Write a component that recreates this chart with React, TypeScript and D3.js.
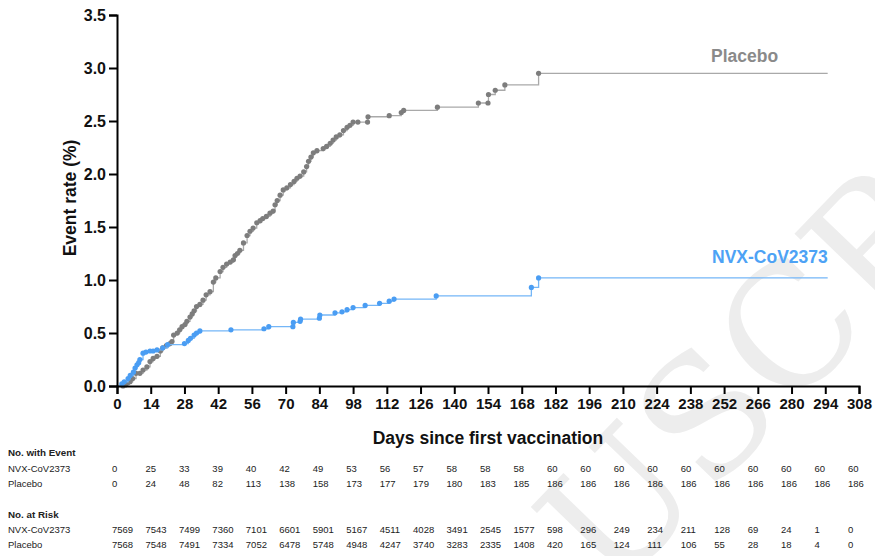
import React, { useEffect, useRef } from 'react';
import * as d3 from 'd3';

// axis ticks
const xTicks = [0, 14, 28, 42, 56, 70, 84, 98, 112, 126, 140, 154, 168, 182, 196, 210, 224, 238, 252, 266, 280, 294, 308];
const yTicks = [0, 0.5, 1.0, 1.5, 2.0, 2.5, 3.0, 3.5];

// [day, event rate %]
const placeboEvents: [number, number][] = [
  [2.5, 0.0], [3.5, 0.01], [4.5, 0.03], [5.4, 0.04], [6.5, 0.07], [7.9, 0.12], [9.5, 0.12], [10.8, 0.15],
  [12.4, 0.18], [13.7, 0.23], [15, 0.26], [16.6, 0.28], [18, 0.33], [19, 0.36], [20.5, 0.38], [22, 0.4],
  [22.8, 0.42], [23.5, 0.48], [25, 0.5], [26, 0.53], [27, 0.56], [28.2, 0.58], [29, 0.61], [30.3, 0.65],
  [31.2, 0.68], [32, 0.71], [33, 0.75], [34.4, 0.77], [35.7, 0.81], [37, 0.86], [38.6, 0.89], [40, 0.98],
  [41, 1.02], [42.8, 1.08], [44, 1.12], [45.5, 1.15], [47, 1.17], [48.3, 1.19], [49, 1.23], [50, 1.25],
  [51, 1.28], [52.5, 1.35], [54, 1.42], [55.2, 1.46], [56.5, 1.49], [58, 1.54], [59.4, 1.56], [60.5, 1.58],
  [62, 1.6], [63.5, 1.63], [64.8, 1.65], [65.6, 1.71], [66.5, 1.75], [67.7, 1.8], [69, 1.85], [70.5, 1.87],
  [72, 1.9], [73.5, 1.93], [74.7, 1.96], [76, 1.98], [77.5, 2.02], [78.7, 2.07], [79.5, 2.12], [80.5, 2.16],
  [81.5, 2.2], [83, 2.22], [85.6, 2.24], [87, 2.26], [88.5, 2.29], [89.7, 2.32], [91, 2.35], [92.5, 2.37],
  [94, 2.41], [95.5, 2.44], [96.7, 2.46], [98, 2.49], [100, 2.49], [104, 2.49], [104.2, 2.54], [113, 2.55],
  [118, 2.58], [119, 2.6], [133, 2.63], [150, 2.67], [154, 2.67], [154.2, 2.75], [157, 2.79], [161, 2.84],
  [175, 2.95],
];

const nvxEvents: [number, number][] = [
  [2, 0.02], [3, 0.04], [4.6, 0.07], [5.5, 0.1], [6.8, 0.13], [7.5, 0.17], [8.3, 0.2], [9, 0.22],
  [9.5, 0.25], [10.8, 0.31], [12, 0.32], [13.7, 0.33], [15, 0.33], [16.6, 0.34], [19, 0.36], [21, 0.39],
  [28, 0.4], [29.6, 0.43], [30.5, 0.45], [32, 0.48], [33, 0.5], [34.4, 0.52], [47.3, 0.53], [61, 0.54],
  [63, 0.56], [73, 0.56], [73.2, 0.6], [76, 0.61], [76.2, 0.63], [84, 0.64], [84.2, 0.67], [90.5, 0.69],
  [93.4, 0.7], [95.5, 0.72], [98, 0.74], [103, 0.76], [109, 0.78], [113, 0.8], [115, 0.82], [132.5, 0.85],
  [172, 0.93], [175, 1.02],
];

const followUpEnd = 295;

// tables under the plot
const nvxWithEvent = [0, 25, 33, 39, 40, 42, 49, 53, 56, 57, 58, 58, 58, 60, 60, 60, 60, 60, 60, 60, 60, 60, 60];
const placeboWithEvent = [0, 24, 48, 82, 113, 138, 158, 173, 177, 179, 180, 183, 185, 186, 186, 186, 186, 186, 186, 186, 186, 186, 186];
const nvxAtRisk = [7569, 7543, 7499, 7360, 7101, 6601, 5901, 5167, 4511, 4028, 3491, 2545, 1577, 598, 296, 249, 234, 211, 128, 69, 24, 1, 0];
const placeboAtRisk = [7568, 7548, 7491, 7334, 7052, 6478, 5748, 4948, 4247, 3740, 3283, 2335, 1408, 420, 165, 124, 111, 106, 55, 28, 18, 4, 0];

const width = 875;
const height = 556;
const arial = '"Liberation Sans", Arial, sans-serif';

const KMChart = () => {
  const svgRef = useRef<SVGSVGElement>(null);

  useEffect(() => {
    const svg = d3.select(svgRef.current);
    svg.selectAll('*').remove();

    const x = d3.scaleLinear().domain([0, 308]).range([117, 859]);
    const y = d3.scaleLinear().domain([0, 3.5]).range([386, 15]);

    // faint watermark, lower right (clipped by the frame like the original)
    svg.append('text')
      .attr('transform', 'translate(612,596) rotate(-46)')
      .attr('font-family', '"DejaVu Serif", "Liberation Serif", serif')
      .attr('font-size', 165)
      .attr('fill', '#ededed')
      .text('USCR');

    // curves
    const series = [
      { name: 'Placebo', events: placeboEvents, dot: '#7d7d7d', line: '#a9a9a9' },
      { name: 'NVX-CoV2373', events: nvxEvents, dot: '#4a9df3', line: '#74b6f7' },
    ];

    const line = d3.line<[number, number]>()
      .x(d => x(d[0]))
      .y(d => y(d[1]))
      .curve(d3.curveStepAfter);

    series.forEach(s => {
      const last = s.events[s.events.length - 1];
      const pts: [number, number][] = [[0, 0], ...s.events, [followUpEnd, last[1]]];
      svg.append('path')
        .datum(pts)
        .attr('fill', 'none')
        .attr('stroke', s.line)
        .attr('stroke-width', 1.3)
        .attr('d', line);

      svg.append('g')
        .selectAll('circle')
        .data(s.events)
        .enter()
        .append('circle')
        .attr('cx', d => x(d[0]))
        .attr('cy', d => y(d[1]))
        .attr('r', 2.6)
        .attr('fill', s.dot);
    });

    // axes
    const yAxis = svg.append('g')
      .attr('transform', `translate(${x(0)},0)`)
      .call(d3.axisLeft(y).tickValues(yTicks).tickFormat(d3.format('.1f')).tickSize(8).tickPadding(3));
    yAxis.select('.domain').attr('stroke', '#000').attr('stroke-width', 2);
    yAxis.selectAll('.tick line').attr('stroke', '#000').attr('stroke-width', 2);
    yAxis.selectAll('.tick text')
      .attr('font-family', arial)
      .attr('font-weight', 'bold')
      .attr('font-size', 16)
      .attr('fill', '#111');

    const xAxis = svg.append('g')
      .attr('transform', `translate(0,${y(0)})`)
      .call(d3.axisBottom(x).tickValues(xTicks).tickFormat(d3.format('d')).tickSize(8).tickPadding(4));
    xAxis.select('.domain').attr('stroke', '#000').attr('stroke-width', 2);
    xAxis.selectAll('.tick line').attr('stroke', '#000').attr('stroke-width', 2);
    xAxis.selectAll('.tick text')
      .attr('font-family', arial)
      .attr('font-weight', 'bold')
      .attr('font-size', 15)
      .attr('fill', '#111');

    // axis titles
    svg.append('text')
      .attr('x', 488)
      .attr('y', 444)
      .attr('text-anchor', 'middle')
      .attr('font-family', arial)
      .attr('font-weight', 'bold')
      .attr('font-size', 17.5)
      .attr('fill', '#111')
      .text('Days since first vaccination');

    svg.append('text')
      .attr('transform', 'translate(76,198) rotate(-90)')
      .attr('text-anchor', 'middle')
      .attr('font-family', arial)
      .attr('font-weight', 'bold')
      .attr('font-size', 17.5)
      .attr('fill', '#111')
      .text('Event rate (%)');

    // series labels
    svg.append('text')
      .attr('x', 711)
      .attr('y', 62)
      .attr('font-family', arial)
      .attr('font-weight', 'bold')
      .attr('font-size', 17.5)
      .attr('fill', '#8a8a8a')
      .text('Placebo');

    svg.append('text')
      .attr('x', 712)
      .attr('y', 263)
      .attr('font-family', arial)
      .attr('font-weight', 'bold')
      .attr('font-size', 17.5)
      .attr('fill', '#4da2f5')
      .text('NVX-CoV2373');

    // number tables
    const col = d3.scalePoint<number>().domain(xTicks).range([112, 848]);
    const rows = [
      { y: 456, label: 'No. with Event', header: true, values: [] as number[] },
      { y: 472, label: 'NVX-CoV2373', header: false, values: nvxWithEvent },
      { y: 487, label: 'Placebo', header: false, values: placeboWithEvent },
      { y: 518, label: 'No. at Risk', header: true, values: [] as number[] },
      { y: 533, label: 'NVX-CoV2373', header: false, values: nvxAtRisk },
      { y: 548, label: 'Placebo', header: false, values: placeboAtRisk },
    ];

    const table = svg.append('g')
      .attr('font-family', arial)
      .attr('font-size', 9.5)
      .attr('fill', '#222');

    rows.forEach(r => {
      table.append('text')
        .attr('x', 8)
        .attr('y', r.y)
        .attr('font-weight', r.header ? 'bold' : 'normal')
        .attr('font-size', r.header ? 9.8 : 9.5)
        .text(r.label);
      table.selectAll(null)
        .data(r.values)
        .enter()
        .append('text')
        .attr('x', (d, i) => col(xTicks[i]) as number)
        .attr('y', r.y)
        .text(d => String(d));
    });
  }, []);

  return (
    <svg ref={svgRef} width={width} height={height}
      style={{ position: 'absolute', left: 0, top: 0, background: '#fff' }}></svg>
  );
};

export default function App() {
  return <KMChart />;
}
